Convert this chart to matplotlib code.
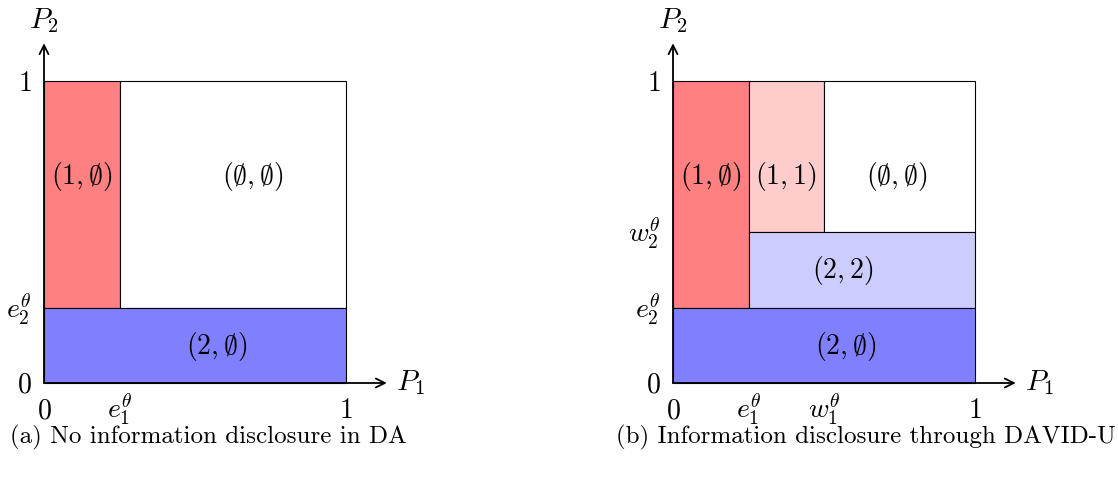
import matplotlib
matplotlib.use("Agg")
import matplotlib.pyplot as plt
from matplotlib.patches import Rectangle

plt.rcParams['mathtext.fontset'] = 'cm'
plt.rcParams['font.family'] = ['cmr10', 'DejaVu Serif']

# thresholds (unit square)
e1 = 0.25
e2 = 0.25
w1 = 0.5
w2 = 0.5

red = '#ff8080'
light_red = '#ffcccc'
blue = '#8080ff'
light_blue = '#ccccff'

# regions: (x0, y0, width, height, colour)
regions_a = [
    (0, e2, e1, 1 - e2, red),
    (e1, e2, 1 - e1, 1 - e2, 'white'),
    (0, 0, 1, e2, blue),
]
labels_a = [(r'$(1,\emptyset)$', 0.125, 0.685),
            (r'$(\emptyset,\emptyset)$', 0.69, 0.685),
            (r'$(2,\emptyset)$', 0.57, 0.122)]

regions_b = [
    (0, e2, e1, 1 - e2, red),
    (e1, w2, w1 - e1, 1 - w2, light_red),
    (w1, w2, 1 - w1, 1 - w2, 'white'),
    (e1, e2, 1 - e1, w2 - e2, light_blue),
    (0, 0, 1, e2, blue),
]
labels_b = [(r'$(1,\emptyset)$', 0.125, 0.685),
            (r'$(1,1)$', 0.374, 0.685),
            (r'$(\emptyset,\emptyset)$', 0.742, 0.685),
            (r'$(2,2)$', 0.563, 0.374),
            (r'$(2,\emptyset)$', 0.57, 0.122)]

xticks_a = [(0, '$0$'), (e1, r'$e_1^\theta$'), (1, '$1$')]
yticks_a = [(0, '$0$'), (e2, r'$e_2^\theta$'), (1, '$1$')]
xticks_b = [(0, '$0$'), (e1, r'$e_1^\theta$'), (w1, r'$w_1^\theta$'), (1, '$1$')]
yticks_b = [(0, '$0$'), (e2, r'$e_2^\theta$'), (w2, r'$w_2^\theta$'), (1, '$1$')]

W, H = 1118, 480
unit = 302.0
fig = plt.figure(figsize=(W / 100, H / 100), dpi=100)


def panel(px0, px1, ox, oy, regions, labels, xticks, yticks, caption, cap_x):
    ax = fig.add_axes([px0 / W, 0, (px1 - px0) / W, 1])
    ax.set_xlim((px0 - ox) / unit, (px1 - ox) / unit)
    ax.set_ylim((oy - H) / unit, oy / unit)
    ax.axis('off')
    for x0, y0, w, h, c in regions:
        ax.add_patch(Rectangle((x0, y0), w, h, facecolor=c, edgecolor='black', lw=0.8))
    for s, x, y in labels:
        ax.text(x, y, s, ha='center', va='center', fontsize=20)
    arrow = dict(arrowstyle='->', lw=1.3, color='black', mutation_scale=16,
                 shrinkA=0, shrinkB=0)
    ax.annotate('', xy=(1.135, 0), xytext=(0, 0), arrowprops=arrow)
    ax.annotate('', xy=(0, 1.125), xytext=(0, 0), arrowprops=arrow)
    ax.text(1.165, 0, '$P_1$', ha='left', va='center', fontsize=21)
    ax.text(0, 1.2, '$P_2$', ha='center', va='center', fontsize=21)
    for v, s in xticks:
        ax.text(v, -0.116, s, ha='center', va='baseline', fontsize=20)
    for v, s in yticks:
        ax.text(-0.04, v - 0.033, s, ha='right', va='baseline', fontsize=20)
    ax.text(cap_x, -0.18, caption, ha='center', va='center', fontsize=18)
    return ax


panel(0, 480, 44, 383, regions_a, labels_a, xticks_a, yticks_a,
      '(a) No information disclosure in DA', 0.543)
panel(560, 1118, 673, 383, regions_b, labels_b, xticks_b, yticks_b,
      '(b) Information disclosure through DAVID-U', 0.64)

fig.savefig('out.png', dpi=100)
